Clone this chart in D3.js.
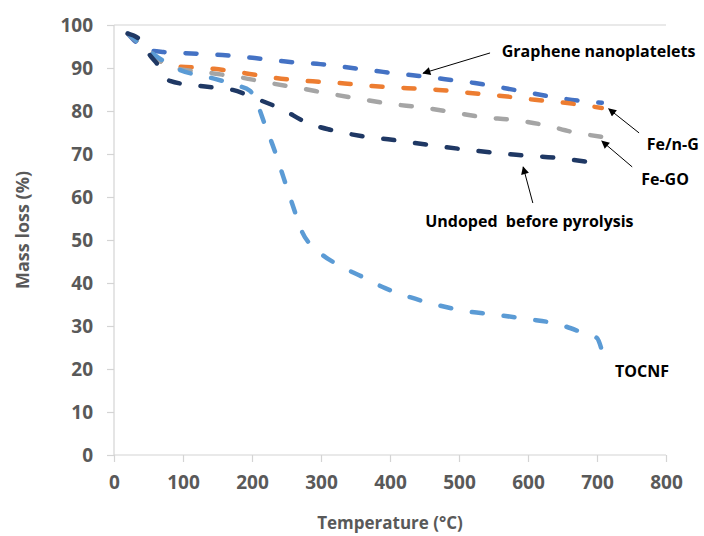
<!DOCTYPE html>
<html>
<head>
<meta charset="utf-8">
<script src="https://cdn.jsdelivr.net/npm/d3@7"></script>
<style>
  body { margin: 0; background: #fff; }
  text { font-family: "Open Sans", sans-serif; font-weight: bold; }
</style>
</head>
<body>
<svg id="chart" width="704" height="536"></svg>
<script>
// readings taken off the TGA curves: [temperature, mass %]
var graphene = [[20, 98], [49, 94.2], [72, 93.7], [112, 93.4], [157, 93.0], [204, 92.3], [255, 91.4],
  [299, 90.9], [345, 90.0], [390, 89.1], [433, 88.3], [480, 87.4], [523, 86.5], [567, 85.3],
  [610, 84.0], [654, 82.8], [707, 81.9]];
var feNG = [[20, 98], [49, 94.2], [80, 90.6], [145, 89.8], [190, 88.8], [233, 87.7], [277, 87.0],
  [326, 86.5], [374, 85.8], [425, 85.3], [470, 84.9], [516, 84.2], [562, 83.5], [610, 82.6],
  [654, 81.9], [707, 80.7]];
var feGO = [[20, 98], [49, 94.2], [80, 90.3], [142, 88.8], [184, 87.8], [226, 86.5], [270, 85.3],
  [313, 84.0], [357, 82.8], [403, 81.6], [443, 80.9], [488, 79.8], [533, 78.6], [578, 77.9],
  [625, 76.7], [665, 75.1], [707, 74.0]];
var tocnf = [[20, 98], [49, 94.2], [59, 93.0], [96, 89.5], [136, 87.9], [177, 86.0], [197, 84.7],
  [206, 82.3], [219, 76.7], [233, 70.7], [246, 64.4], [259, 58.1], [272, 52.1], [296, 47.4],
  [325, 44.2], [358, 41.6], [393, 38.8], [429, 36.7], [468, 34.9], [509, 33.5], [554, 32.6],
  [600, 31.6], [642, 30.5], [680, 28.4], [700, 27.2], [706, 24.9]];
var undoped = [[20, 98], [38, 96.5], [52, 93.0], [64, 90.7], [81, 87.0], [125, 85.8], [172, 84.9],
  [204, 83.0], [246, 80.2], [278, 77.4], [314, 75.6], [358, 74.2], [403, 73.3], [458, 72.1],
  [516, 70.9], [583, 69.8], [641, 69.1], [690, 68.1]];

var xTicks = [0, 100, 200, 300, 400, 500, 600, 700, 800];
var yTicks = [0, 10, 20, 30, 40, 50, 60, 70, 80, 90, 100];

var series = [
  { name: "Graphene nanoplatelets", data: graphene, color: "#4472c4" },
  { name: "Fe/n-G", data: feNG, color: "#ed7d31" },
  { name: "Fe-GO", data: feGO, color: "#a5a5a5" },
  { name: "TOCNF", data: tocnf, color: "#5b9bd5" },
  { name: "Undoped before pyrolysis", data: undoped, color: "#1f3864" }
];

// callouts, in data units: label start, arrow tail, arrow head
var notes = [
  { text: "Graphene nanoplatelets", at: [562, 92.6], from: [545, 93.5], to: [448, 88.8] },
  { text: "Fe/n-G", at: [772, 70.9], from: [761, 74.9], to: [717, 80.5] },
  { text: "Fe-GO", at: [764, 62.8], from: [751, 67.0], to: [707, 73.0] },
  { text: "Undoped  before pyrolysis", at: [451, 53.0], from: [607, 58.6], to: [593, 67.0] },
  { text: "TOCNF", at: [726, 18.1] }
];

var svg = d3.select("#chart");
var x = d3.scaleLinear().domain([0, 800]).range([114, 666]);
var y = d3.scaleLinear().domain([0, 100]).range([455, 25]);
var axisColor = "#d4d4d4";

svg.append("defs").append("marker")
  .attr("id", "head")
  .attr("viewBox", "0 0 10 10")
  .attr("refX", 9).attr("refY", 5)
  .attr("markerWidth", 10).attr("markerHeight", 8)
  .attr("markerUnits", "userSpaceOnUse")
  .attr("orient", "auto")
  .append("path").attr("d", "M0,0L10,5L0,10Z").attr("fill", "#000");

// line at 100
svg.append("line")
  .attr("x1", x(0)).attr("x2", x(800))
  .attr("y1", y(100)).attr("y2", y(100))
  .attr("stroke", axisColor).attr("stroke-width", 1.2);

var xMinor = d3.range(0, 801, 20);
var yMinor = d3.range(0, 101, 2);

var gx = svg.append("g").attr("transform", "translate(0," + y(0) + ")");
gx.call(d3.axisBottom(x).tickValues(xMinor).tickSize(4).tickFormat(""));
gx.call(d3.axisBottom(x).tickValues(xTicks).tickSize(7).tickPadding(14).tickFormat(d3.format("d")));
gx.select(".domain").remove();
gx.append("line").attr("x1", x(0)).attr("x2", x(800)).attr("stroke", axisColor).attr("stroke-width", 1.2);

var gy = svg.append("g").attr("transform", "translate(" + x(0) + ",0)");
gy.call(d3.axisLeft(y).tickValues(yMinor).tickSize(4).tickFormat(""));
gy.call(d3.axisLeft(y).tickValues(yTicks).tickSize(7).tickPadding(14).tickFormat(d3.format("d")));
gy.select(".domain").remove();
gy.append("line").attr("y1", y(0)).attr("y2", y(100)).attr("stroke", axisColor).attr("stroke-width", 1.2);

svg.selectAll(".tick line").attr("stroke", axisColor).attr("stroke-width", 1.2);
svg.selectAll(".tick text")
  .attr("fill", "#595959")
  .style("font-size", "19px")
  .style("font-family", "'Open Sans', sans-serif")
  .style("font-weight", "bold");

var line = d3.line()
  .x(function(d) { return x(d[0]); })
  .y(function(d) { return y(d[1]); })
  .curve(d3.curveMonotoneX);

svg.selectAll(".series")
  .data(series)
  .enter().append("path")
  .attr("class", "series")
  .attr("d", function(s) { return line(s.data); })
  .attr("fill", "none")
  .attr("stroke", function(s) { return s.color; })
  .attr("stroke-width", 4.5)
  .attr("stroke-linecap", "round")
  .attr("stroke-dasharray", "11,21");

// axis titles
svg.append("text")
  .attr("x", (x(0) + x(800)) / 2).attr("y", 529)
  .attr("text-anchor", "middle")
  .attr("fill", "#595959")
  .style("font-size", "17px")
  .text("Temperature (°C)");

svg.append("text")
  .attr("transform", "translate(29," + 230 + ") rotate(-90)")
  .attr("text-anchor", "middle")
  .attr("fill", "#595959")
  .style("font-size", "18px")
  .text("Mass loss (%)");

// callouts
notes.forEach(function(n) {
  if (n.from) {
    svg.append("line")
      .attr("x1", x(n.from[0])).attr("y1", y(n.from[1]))
      .attr("x2", x(n.to[0])).attr("y2", y(n.to[1]))
      .attr("stroke", "#000").attr("stroke-width", 1)
      .attr("marker-end", "url(#head)");
  }
  svg.append("text")
    .attr("x", x(n.at[0])).attr("y", y(n.at[1]))
    .attr("fill", "#000")
    .style("font-size", "16px")
    .style("white-space", "pre")
    .text(n.text);
});
</script>
</body>
</html>
